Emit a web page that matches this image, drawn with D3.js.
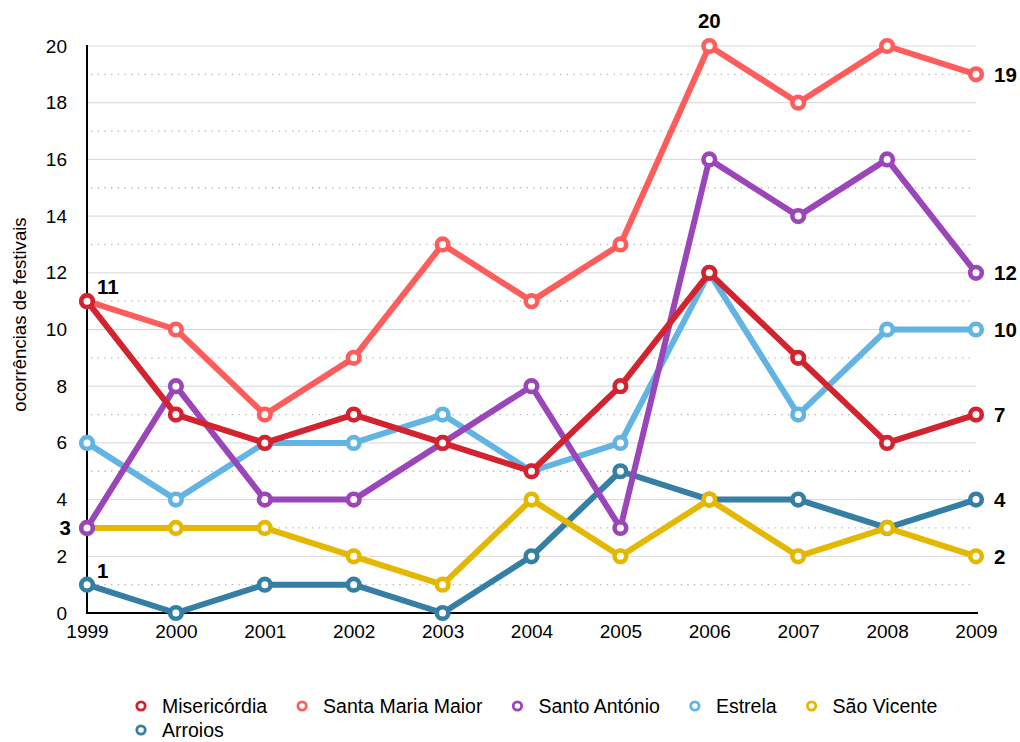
<!DOCTYPE html>
<html>
<head>
<meta charset="utf-8">
<script src="https://cdn.jsdelivr.net/npm/d3@7"></script>
<style>
  body { margin: 0; background: #fff; }
  text { font-family: "Liberation Sans", Arial, Helvetica, sans-serif; fill: #000; }
</style>
</head>
<body>
<div id="chart"></div>
<script>
// Data
const years = [1999, 2000, 2001, 2002, 2003, 2004, 2005, 2006, 2007, 2008, 2009];
const seriesNames = ["Misericórdia", "Santa Maria Maior", "Santo António", "Estrela", "São Vicente", "Arroios"];
const misericordia = [11, 7, 6, 7, 6, 5, 8, 12, 9, 6, 7];
const santaMariaMaior = [11, 10, 7, 9, 13, 11, 13, 20, 18, 20, 19];
const santoAntonio = [3, 8, 4, 4, 6, 8, 3, 16, 14, 16, 12];
const estrela = [6, 4, 6, 6, 7, 5, 6, 12, 7, 10, 10];
const saoVicente = [3, 3, 3, 2, 1, 4, 2, 4, 2, 3, 2];
const arroios = [1, 0, 1, 1, 0, 2, 5, 4, 4, 3, 4];
const yTicks = [0, 2, 4, 6, 8, 10, 12, 14, 16, 18, 20];
const colors = ["#d3232e", "#ff5c5c", "#9a45b9", "#62b4e2", "#e4b800", "#357fa4"];

const seriesValues = [misericordia, santaMariaMaior, santoAntonio, estrela, saoVicente, arroios];
const series = seriesNames.map((name, i) => ({ name, values: seriesValues[i], color: colors[i] }));

// Value labels: [series index, year index, placement]
const valueLabels = [
    [0, 0, "above-right"],
    [4, 0, "left"],
    [5, 0, "above-right"],
    [1, 7, "above"],
    [1, 10, "right"],
    [2, 10, "right"],
    [3, 10, "right"],
    [0, 10, "right"],
    [5, 10, "right"],
    [4, 10, "right"],
];

const width = 1020, height = 742;
const margin = { top: 46, right: 44, bottom: 129, left: 87 };

const svg = d3.select("#chart").append("svg")
    .attr("width", width)
    .attr("height", height);

const x = d3.scaleLinear()
    .domain([d3.min(years), d3.max(years)])
    .range([margin.left, width - margin.right]);
const y = d3.scaleLinear()
    .domain([0, 20])
    .range([height - margin.bottom, margin.top]);

// Gridlines: solid at even values, dotted at odd values
const grid = svg.append("g");
d3.range(1, 21).forEach(v => {
    const odd = v % 2 === 1;
    grid.append("line")
        .attr("x1", odd ? x(1999) + 4 : x(1999))
        .attr("x2", odd ? x(2009) - 3 : x(2009))
        .attr("y1", y(v)).attr("y2", y(v))
        .attr("stroke", odd ? "#b4b4b4" : "#d6d6d6")
        .attr("stroke-width", odd ? 1.3 : 1)
        .attr("stroke-dasharray", odd ? "1.3,5.4" : null);
});

// Axes
const yAxis = svg.append("g")
    .attr("transform", `translate(${x(1999)},0)`)
    .call(d3.axisLeft(y).tickValues(yTicks).tickSize(0).tickPadding(20));
yAxis.select(".domain").attr("stroke", "#000").attr("stroke-width", 2)
    .attr("d", `M0,${y(20) - 1}V${y(0)}`);
yAxis.selectAll("text").attr("font-size", 19).attr("font-family", "Liberation Sans, Arial, sans-serif");

const xAxis = svg.append("g")
    .attr("transform", `translate(0,${y(0)})`)
    .call(d3.axisBottom(x).tickValues(years).tickFormat(d3.format("d")).tickSize(0).tickPadding(12));
xAxis.select(".domain").attr("stroke", "#000").attr("stroke-width", 2)
    .attr("d", `M${x(1999) - 1},0H${x(2009) + 2}`);
xAxis.selectAll("text").attr("font-size", 19).attr("font-family", "Liberation Sans, Arial, sans-serif");

// Y-axis title
svg.append("text")
    .attr("transform", `translate(26,${(y(0) + y(20)) / 2 - 15}) rotate(-90)`)
    .attr("text-anchor", "middle")
    .attr("font-size", 18.6)
    .text("ocorrências de festivais");

// Lines, drawn in reverse legend order
const line = d3.line()
    .x((d, i) => x(years[i]))
    .y(d => y(d));

const drawOrder = series.slice().reverse();
drawOrder.forEach(s => {
    const g = svg.append("g");
    g.append("path")
        .datum(s.values)
        .attr("fill", "none")
        .attr("stroke", s.color)
        .attr("stroke-width", 6)
        .attr("stroke-linejoin", "round")
        .attr("d", line);
    g.selectAll("circle")
        .data(s.values)
        .enter().append("circle")
        .attr("cx", (d, i) => x(years[i]))
        .attr("cy", d => y(d))
        .attr("r", 5.8)
        .attr("fill", "#fff")
        .attr("stroke", s.color)
        .attr("stroke-width", 4.6);
});

// Value labels
valueLabels.forEach(([si, yi, pos]) => {
    const v = series[si].values[yi];
    const px = x(years[yi]), py = y(v);
    const t = svg.append("text")
        .attr("font-size", 20.5)
        .attr("font-weight", "bold")
        .text(v);
    if (pos === "right") {
        t.attr("x", px + 18).attr("y", py).attr("dy", "0.36em");
    } else if (pos === "left") {
        t.attr("x", px - 16).attr("y", py).attr("dy", "0.36em").attr("text-anchor", "end");
    } else if (pos === "above") {
        t.attr("x", px).attr("y", py - 18).attr("text-anchor", "middle");
    } else {
        t.attr("x", px + 10).attr("y", py - 7);
    }
});

// Legend, flowing left to right and wrapping
const legend = svg.append("g");
let lx = 141, ly = 706;
const legendRight = 960;
series.forEach(s => {
    const item = legend.append("g");
    item.append("circle")
        .attr("cx", 0).attr("cy", 0)
        .attr("r", 4.2)
        .attr("fill", "#fff")
        .attr("stroke", s.color)
        .attr("stroke-width", 2.8);
    const label = item.append("text")
        .attr("x", 21).attr("y", 0).attr("dy", "0.35em")
        .attr("font-size", 19.5)
        .text(s.name);
    const w = 21 + label.node().getComputedTextLength();
    if (lx + w > legendRight) {
        lx = 141;
        ly += 24;
    }
    item.attr("transform", `translate(${lx},${ly})`);
    lx += w + 35;
});
</script>
</body>
</html>
